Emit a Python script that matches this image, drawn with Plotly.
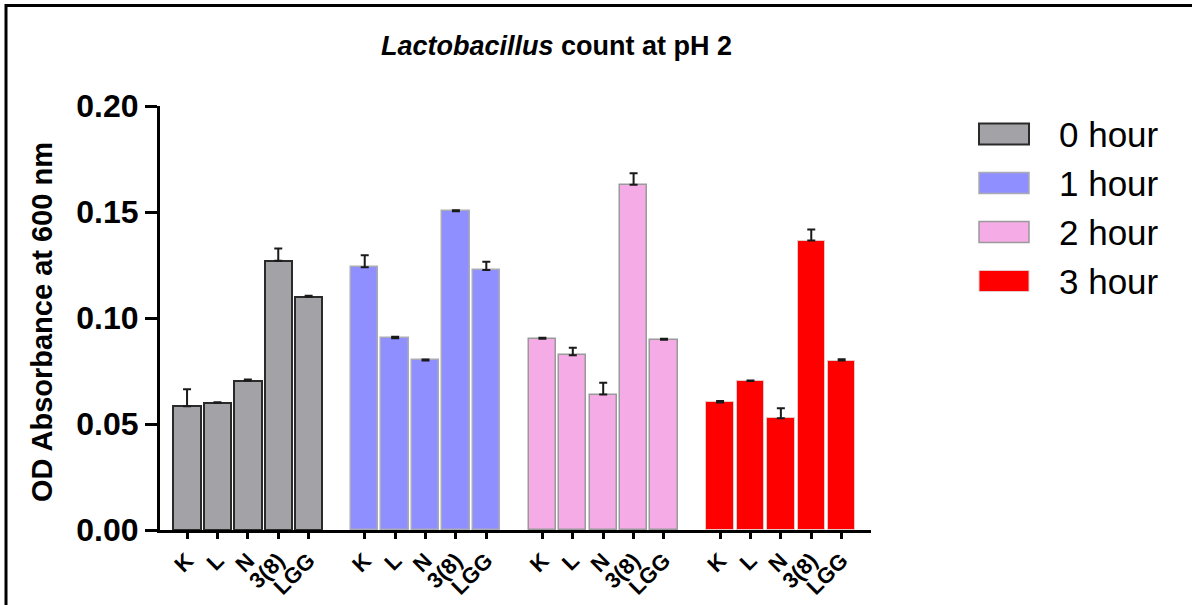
import plotly.graph_objects as go

# ---- data ----
strains = ["K", "L", "N", "3(8)", "LGG"]
times = ["0 hour", "1 hour", "2 hour", "3 hour"]
od_0h = [0.0584, 0.0600, 0.0705, 0.1270, 0.1100]
od_1h = [0.1239, 0.0904, 0.0800, 0.1503, 0.1227]
od_2h = [0.0902, 0.0824, 0.0639, 0.1628, 0.0897]
od_3h = [0.0602, 0.0703, 0.0527, 0.1365, 0.0799]
err_0h = [0.0080, 0.0003, 0.0005, 0.0058, 0.0005]
err_1h = [0.0057, 0.0007, 0.0004, 0.0005, 0.0038]
err_2h = [0.0005, 0.0036, 0.0056, 0.0055, 0.0005]
err_3h = [0.0006, 0.0002, 0.0047, 0.0053, 0.0007]
y_ticks = [0.00, 0.05, 0.10, 0.15, 0.20]

values = [od_0h, od_1h, od_2h, od_3h]
errors = [err_0h, err_1h, err_2h, err_3h]

# ---- styles ----
fills = ["#A3A2A7", "#8F8FFF", "#F5ABE6", "#FF0000"]
outlines = ["#2a2a2a", "#ABABB5", "#9A9A9A", "#E8C8C8"]
outline_w = [2, 1.5, 1.5, 1]
GROUP_STEP = 5.845

# pixel geometry helpers (plot area)
L, R, T, B = 160, 871, 106, 530
W, H = 1192, 605
def px(x):
    return (x - L) / (R - L)
def py(y):
    return (B - y) / (B - T)

fig = go.Figure()
tickvals, ticktext = [], []
for g, (vals, errs) in enumerate(zip(values, errors)):
    xs = [g * GROUP_STEP + i for i in range(len(strains))]
    tickvals += xs
    ticktext += strains
    fig.add_trace(go.Bar(
        x=xs, y=vals, width=0.9, name=times[g],
        marker=dict(color=fills[g], line=dict(color=outlines[g], width=outline_w[g])),
        error_y=dict(type="data", array=errs, arrayminus=[0] * len(errs), symmetric=False,
                     color="#1a1a1a", thickness=2, width=4),
        showlegend=False,
    ))

font_family = "Liberation Sans, Arial, sans-serif"

fig.update_layout(
    width=W, height=H,
    margin=dict(l=L, r=W - R, t=T, b=H - B, autoexpand=False),
    plot_bgcolor="white", paper_bgcolor="white",
    bargap=0,
    xaxis=dict(
        range=[-0.89, 22.5], tickvals=tickvals, ticktext=ticktext, tickangle=-45,
        automargin=False,
        showgrid=False, zeroline=False, showline=True, linecolor="black", linewidth=3,
        ticks="outside", ticklen=6, tickwidth=3, tickcolor="black",
        tickfont=dict(family=font_family, size=22, color="black", weight="bold"),
    ),
    yaxis=dict(
        range=[0, 0.2], tickvals=y_ticks, ticktext=[f"{v:.2f}" for v in y_ticks],
        automargin=False,
        showgrid=False, zeroline=False, showline=True, linecolor="black", linewidth=3,
        ticks="outside", ticklen=12, tickwidth=3, tickcolor="black",
        tickfont=dict(family=font_family, size=32, color="black", weight="bold"),
    ),
    font=dict(family=font_family, color="black"),
)

annotations = [
    dict(text="<b><i>Lactobacillus</i> count at pH 2</b>", x=px(556), y=py(46),
         xref="paper", yref="paper", showarrow=False, xanchor="center", yanchor="middle",
         font=dict(family=font_family, size=27, color="black")),
    dict(text="<b>OD Absorbance at 600 nm</b>", x=px(42), y=py(322), textangle=-90,
         xref="paper", yref="paper", showarrow=False, xanchor="center", yanchor="middle",
         font=dict(family=font_family, size=29, color="black")),
]

shapes = [
    # outer frame (top and left)
    dict(type="line", xref="paper", yref="paper", x0=px(6), x1=px(W + 5), y0=py(5.5), y1=py(5.5),
         line=dict(color="black", width=3)),
    dict(type="line", xref="paper", yref="paper", x0=px(6), x1=px(6), y0=py(4), y1=py(H + 5),
         line=dict(color="black", width=3)),
]

legend_rows = [134, 183, 232, 281]
for g, yc in enumerate(legend_rows):
    shapes.append(dict(type="rect", xref="paper", yref="paper",
                       x0=px(979), x1=px(1029), y0=py(yc + 10.5), y1=py(yc - 10.5),
                       fillcolor=fills[g], line=dict(color=outlines[g], width=outline_w[g])))
    annotations.append(dict(text=times[g], x=px(1057), y=py(yc), xref="paper", yref="paper",
                            showarrow=False, xanchor="left", yanchor="middle",
                            font=dict(family=font_family, size=35, color="black")))

fig.update_layout(annotations=annotations, shapes=shapes)
fig.write_html("out.html")
